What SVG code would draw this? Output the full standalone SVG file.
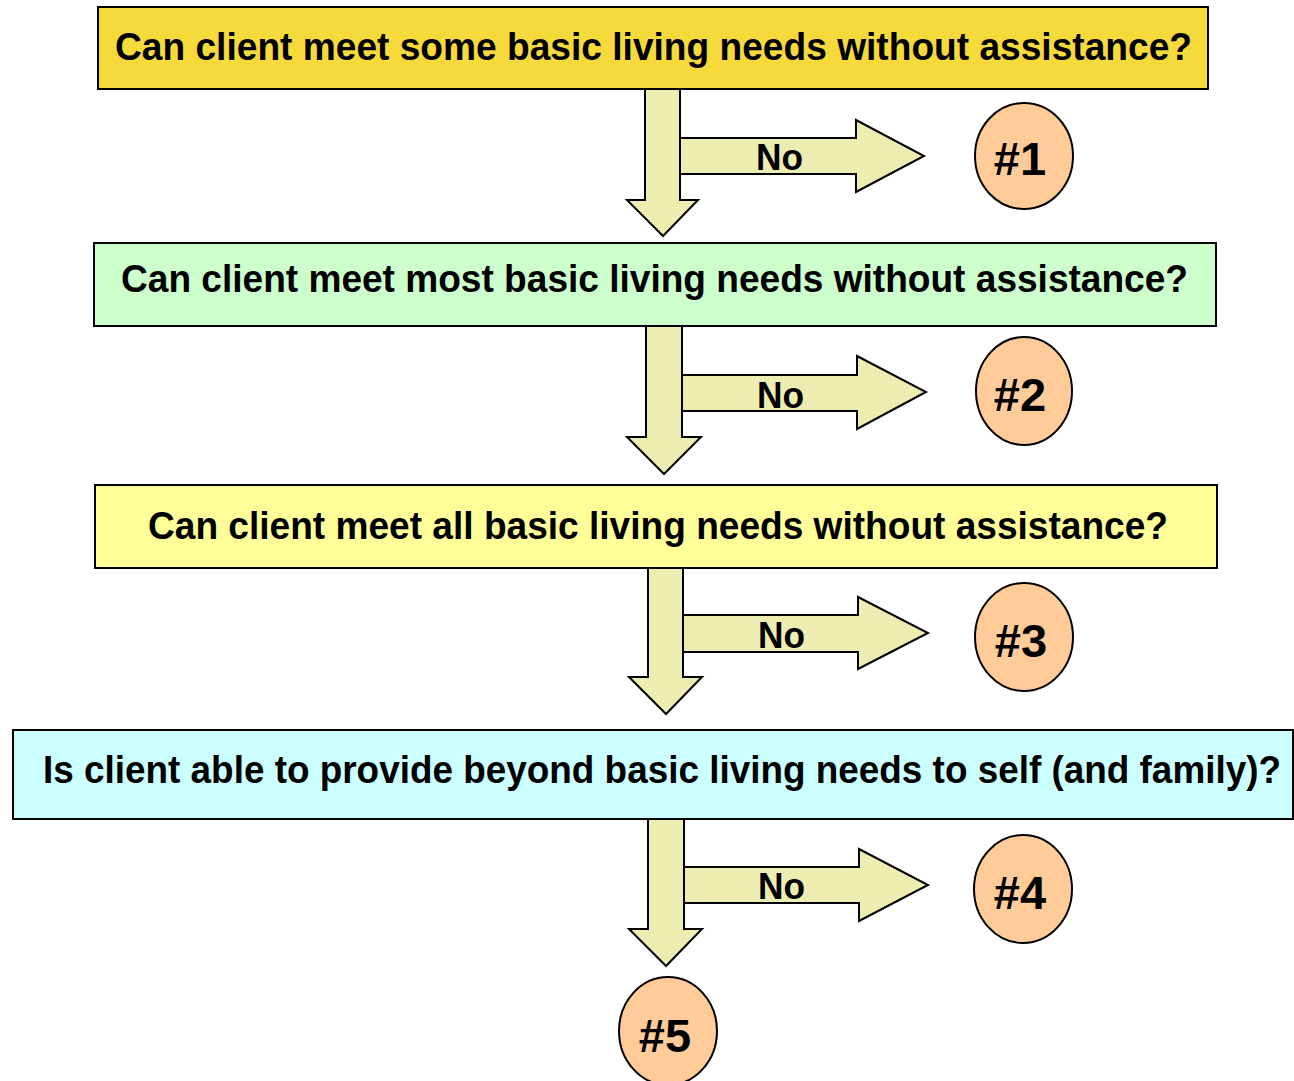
<svg xmlns="http://www.w3.org/2000/svg" width="1294" height="1081" viewBox="0 0 1294 1081">
<style>
.box{stroke:#000;stroke-width:2}
.q{font-family:"Liberation Sans",Arial,sans-serif;font-weight:bold;font-size:38px;fill:#000}
.arr{fill:#EEEDB1;stroke:#000;stroke-width:2;stroke-linejoin:miter}
.no{font-family:"Liberation Sans",Arial,sans-serif;font-weight:bold;font-size:36px;fill:#000}
.circ{fill:#FFCC99;stroke:#000;stroke-width:2}
.num{font-family:"Liberation Sans",Arial,sans-serif;font-weight:bold;font-size:47px;fill:#000;text-anchor:middle}
</style>
<rect width="1294" height="1081" fill="#fff"/>
<g id="q1">
<rect class="box" x="98" y="7" width="1110" height="82" fill="#F6D93B"/>
<text class="q" x="115" y="60" textLength="1077" lengthAdjust="spacingAndGlyphs">Can client meet some basic living needs without assistance?</text>
</g>
<g id="q2">
<rect class="box" x="94" y="243" width="1122" height="83" fill="#CCFFCC"/>
<text class="q" x="121" y="292" textLength="1067" lengthAdjust="spacingAndGlyphs">Can client meet most basic living needs without assistance?</text>
</g>
<g id="q3">
<rect class="box" x="95" y="485" width="1122" height="83" fill="#FFFF99"/>
<text class="q" x="148" y="539" textLength="1020" lengthAdjust="spacingAndGlyphs">Can client meet all basic living needs without assistance?</text>
</g>
<g id="q4">
<rect class="box" x="13" y="730" width="1280" height="89" fill="#CCFFFF" stroke="#333"/>
<text class="q" x="43" y="783" textLength="1238" lengthAdjust="spacingAndGlyphs">Is client able to provide beyond basic living needs to self (and family)?</text>
</g>
<g id="connectors">
<polygon class="arr" points="645,89 680,89 680,200 698,200 663,236 627,200 645,200"/>
<polygon class="arr" points="680,138 856,138 856,120 924,156 856,192 856,174 680,174"/>
<text class="no" x="756" y="170" textLength="47" lengthAdjust="spacingAndGlyphs">No</text>
<polygon class="arr" points="646,326 682,326 682,437 701,437 664,474 627,437 646,437"/>
<polygon class="arr" points="682,375 857,375 857,356 926,392 857,429 857,411 682,411"/>
<text class="no" x="757" y="408" textLength="47" lengthAdjust="spacingAndGlyphs">No</text>
<polygon class="arr" points="648,568 683,568 683,677 702,677 666,714 629,677 648,677"/>
<polygon class="arr" points="683,615 858,615 858,597 928,633 858,669 858,652 683,652"/>
<text class="no" x="758" y="648" textLength="47" lengthAdjust="spacingAndGlyphs">No</text>
<polygon class="arr" points="648,819 684,819 684,929 702,929 666,966 629,929 648,929"/>
<polygon class="arr" points="684,867 859,867 859,849 928,885 859,921 859,903 684,903"/>
<text class="no" x="758" y="899" textLength="47" lengthAdjust="spacingAndGlyphs">No</text>
</g>
<g id="n1"><ellipse class="circ" cx="1024" cy="156" rx="49" ry="53"/><text class="num" x="1020" y="175">#1</text></g>
<g id="n2"><ellipse class="circ" cx="1024" cy="391" rx="48" ry="54"/><text class="num" x="1020" y="411">#2</text></g>
<g id="n3"><ellipse class="circ" cx="1024" cy="637" rx="49" ry="54"/><text class="num" x="1021" y="657">#3</text></g>
<g id="n4"><ellipse class="circ" cx="1023" cy="889" rx="49" ry="54"/><text class="num" x="1020" y="909">#4</text></g>
<g id="n5"><ellipse class="circ" cx="668" cy="1031" rx="49" ry="54"/><text class="num" x="665" y="1052">#5</text></g>
</svg>
